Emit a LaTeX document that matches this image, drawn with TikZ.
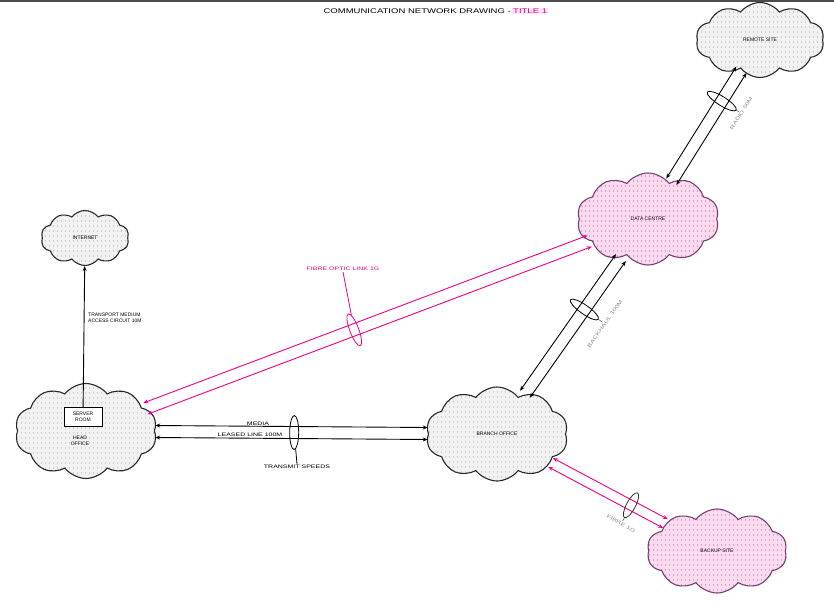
\documentclass[tikz,border=0pt]{standalone}
\usepackage{fontspec}
\setmainfont{Liberation Sans}
\newfontfamily\widefont[FakeStretch=1.4]{Liberation Sans}
\usetikzlibrary{shapes.symbols,shapes.geometric,patterns.meta,calc,arrows.meta}

% coarse dot screen used inside the clouds
\tikzdeclarepattern{name=cloudscreen, type=uncolored,
  bounding box={(0pt,0pt) and (4pt,4.5pt)}, tile size={(4pt,4.5pt)},
  code={\fill (2pt,2.25pt) circle (0.6pt);}}

% two parallel conductors between two clouds: style, from, to, half spacing
\newcommand\duallink[4]{%
  \path (#2) -- (#3) coordinate[pos=0] (#2#3s) coordinate[pos=1] (#2#3e);
  \draw[#1] ($(#2#3s)!#4!90:(#2#3e)$) -- ($(#2#3e)!#4!-90:(#2#3s)$);
  \draw[#1] ($(#2#3s)!#4!-90:(#2#3e)$) -- ($(#2#3e)!#4!90:(#2#3s)$);
}

\begin{document}
\begin{tikzpicture}[x=1pt,y=-1pt,
  txt/.style={font=\fontsize{5}{5.6}\selectfont, inner sep=1pt},
  wide/.style={font=\widefont\fontsize{5}{5.8}\selectfont, inner sep=1pt},
  cloudbase/.style={cloud, cloud puffs=10, cloud puff arc=105, cloud ignores aspect,
    inner sep=0pt, line width=1.1pt, txt},
  graycloud/.style={cloudbase, draw=black!85, fill=gray!10,
    postaction={pattern=cloudscreen, pattern color=gray!85}},
  pinkcloud/.style={cloudbase, draw=violet!55!black!75, fill=magenta!14,
    postaction={pattern=cloudscreen, pattern color=magenta!50!black!80}},
  tipboth/.style={{Stealth[length=5pt,width=4pt]}-{Stealth[length=5pt,width=4pt]}},
  blklink/.style={line width=0.9pt, black, tipboth},
  pnklink/.style={line width=0.9pt, magenta, tipboth},
  bundle/.style={ellipse, draw, line width=0.8pt, minimum width=9pt, minimum height=34pt, inner sep=0pt},
  slabel/.style={wide, text=black!45},
]
\useasboundingbox (0,0) rectangle (834,605);
\fill[black!70] (0,0) rectangle (834,2);

% title
\node[wide, font=\widefont\fontsize{6.8}{8}\selectfont, anchor=east] (title) at (512,11) {COMMUNICATION NETWORK DRAWING -};
\node[wide, font=\widefont\fontsize{6.8}{8}\selectfont, anchor=west, text=magenta, fill=magenta!10] (titleb) at (title.east) {TITLE 1};

% clouds
\node[graycloud, minimum width=88, minimum height=55] (A) at (85,238) {INTERNET};
\node[graycloud, minimum width=142, minimum height=95] (B) at (86,431) {};
\node[graycloud, minimum width=142, minimum height=94] (C) at (497,434) {BRANCH OFFICE};
\node[pinkcloud, minimum width=142, minimum height=92] (D) at (648,219) {DATA CENTRE};
\node[graycloud, minimum width=128, minimum height=75] (E) at (760,40) {REMOTE SITE};
\node[pinkcloud, minimum width=140, minimum height=84] (F) at (717,551) {BACKUP SITE};

% contents of the headquarters cloud
\node[txt, draw, line width=0.8pt, fill=white, minimum width=38, minimum height=19, align=center] (srv) at (83,417) {SERVER\\ROOM};
\node[txt, align=center] (hq) at (80,441) {HEAD\\OFFICE};

% uplink to the internet
\draw[line width=0.9pt, -{Stealth[length=5pt,width=4pt]}] (srv) -- (A);
\node[txt, anchor=west, align=left] (uplab) at (87,318) {TRANSPORT MEDIUM\\ACCESS CIRCUIT 10M};

% headquarters to branch
\duallink{blklink}{B}{C}{6pt}
\path (B) -- (C) node[bundle, pos=0.51, sloped] (bc) {};
\node[wide] (bcl1) at (258,424) {MEDIA};
\node[wide] (bcl2) at (250,435) {LEASED LINE 100M};
\node[wide] (bcl3) at (297,467) {TRANSMIT SPEEDS};
\draw[line width=0.8pt] (bc) -- (bcl3.north);

% headquarters to data centre
\duallink{pnklink}{B}{D}{6pt}
\path (B) -- (D) node[bundle, draw=magenta, pos=0.47, sloped] (bd) {};
\node[wide, text=magenta] (bdl) at (343,269) {FIBRE OPTIC LINK 1G};
\draw[line width=0.8pt, magenta] (bd) -- (bdl.south);

% branch to data centre
\duallink{blklink}{C}{D}{6pt}
\path (C) -- (D) node[bundle, pos=0.62, sloped] (cd) {};
\path (C) -- (D) node[slabel, pos=0.62, sloped, below=22pt] (cdl) {BACKHAUL 100M};
\draw[line width=0.6pt, black!60] (cd) -- (cdl);

% data centre to remote site
\duallink{blklink}{D}{E}{6pt}
\path (D) -- (E) node[bundle, pos=0.72, sloped] (de) {};
\path (D) -- (E) node[slabel, pos=0.72, sloped, below=20pt] (del) {RADIO 50M};
\draw[line width=0.6pt, black!60] (de) -- (del);

% branch to backup site
\duallink{pnklink}{C}{F}{5pt}
\path (C) -- (F) node[bundle, draw=black!80, minimum height=28pt, pos=0.7, sloped] (cf) {};
\path (C) -- (F) node[slabel, pos=0.7, sloped, below=18pt] (cfl) {FIBRE 1G};
\draw[line width=0.6pt, black!60] (cf) -- (cfl);
\end{tikzpicture}
\end{document}
